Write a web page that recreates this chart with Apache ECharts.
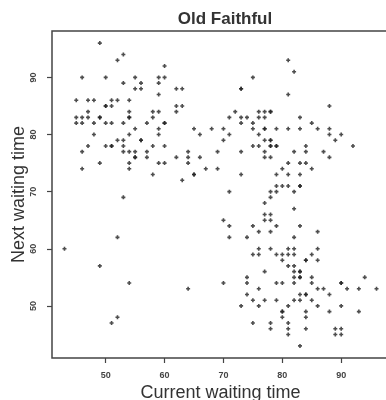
<!DOCTYPE html>
<html>
<head>
<meta charset="utf-8">
<script src="https://cdn.jsdelivr.net/npm/echarts@6/dist/echarts.min.js"></script>
<style>
  html, body { margin: 0; padding: 0; background: #fff; }
  #chart { width: 386px; height: 400px; }
</style>
</head>
<body>
<div id="chart"></div>
<script>
'use strict';
// Old Faithful: waiting times between eruptions, in order
var waiting = [
    79, 54, 74, 62, 85, 55, 88, 85, 51, 85, 54, 84, 78, 47, 83, 52, 62, 84, 52, 79,
    51, 47, 78, 69, 74, 83, 55, 76, 78, 79, 73, 77, 66, 80, 74, 52, 48, 80, 59, 90,
    80, 58, 84, 58, 73, 83, 64, 53, 82, 59, 75, 90, 54, 80, 54, 83, 71, 64, 77, 81,
    59, 84, 48, 82, 60, 92, 78, 78, 65, 73, 82, 56, 79, 71, 62, 76, 60, 78, 76, 83,
    75, 82, 70, 65, 73, 88, 76, 80, 48, 86, 60, 90, 50, 78, 63, 72, 84, 75, 51, 82,
    62, 88, 49, 83, 81, 47, 84, 52, 86, 81, 75, 59, 89, 79, 59, 81, 50, 85, 59, 87,
    53, 69, 77, 56, 88, 81, 45, 82, 55, 90, 45, 83, 56, 89, 46, 82, 51, 86, 53, 79,
    81, 60, 82, 77, 76, 59, 80, 49, 96, 53, 77, 77, 65, 81, 71, 70, 81, 93, 53, 89,
    45, 86, 58, 78, 66, 76, 63, 88, 52, 93, 49, 57, 77, 68, 81, 81, 73, 50, 85, 74,
    55, 77, 83, 83, 51, 78, 84, 46, 83, 55, 81, 57, 76, 84, 77, 81, 87, 77, 51, 78,
    60, 82, 91, 53, 78, 46, 77, 84, 49, 83, 71, 80, 49, 75, 64, 76, 53, 94, 55, 76,
    50, 82, 54, 75, 78, 79, 78, 78, 70, 79, 70, 54, 86, 50, 90, 54, 54, 77, 79, 64,
    75, 47, 86, 63, 85, 82, 57, 82, 67, 74, 54, 83, 73, 73, 88, 80, 71, 83, 56, 79,
    78, 84, 58, 83, 43, 60, 75, 81, 46, 90, 46, 74
];
var xTicks = [50, 60, 70, 80, 90];
var yTicks = [50, 60, 70, 80, 90];

// each point: this waiting time against the next one
var points = [];
for (var i = 0; i < waiting.length - 1; i++) {
    points.push([waiting[i], waiting[i + 1]]);
}

var plus = 'path://M3,0H7V3H10V7H7V10H3V7H0V3H3Z';
var ink = '#444';

var chart = echarts.init(document.getElementById('chart'));
chart.setOption({
    animation: false,
    textStyle: { fontFamily: 'Liberation Sans, Arial, sans-serif' },
    title: {
        text: 'Old Faithful',
        left: 220,
        top: 6,
        textAlign: 'center',
        textStyle: { fontSize: 17, fontWeight: 'bold', color: '#333' }
    },
    grid: {
        left: 52, top: 31, width: 337, height: 327,
        outerBoundsMode: 'none',
        show: true,
        borderColor: ink,
        borderWidth: 1.5
    },
    xAxis: {
        type: 'value',
        min: 40.88,
        max: 98.12,
        name: 'Current waiting time',
        nameLocation: 'middle',
        nameGap: 26,
        nameMoveOverlap: false,
        nameTextStyle: { fontSize: 18, color: '#333' },
        axisLine: { show: false },
        splitLine: { show: false },
        axisTick: { show: true, length: 5, customValues: xTicks, lineStyle: { color: ink, width: 1.2 } },
        axisLabel: { customValues: xTicks, fontSize: 9, fontWeight: 'bold', color: '#444', margin: 13 }
    },
    yAxis: {
        type: 'value',
        min: 40.88,
        max: 98.12,
        name: 'Next waiting time',
        nameLocation: 'middle',
        nameGap: 24,
        nameMoveOverlap: false,
        nameTextStyle: { fontSize: 18, color: '#333' },
        axisLine: { show: false },
        splitLine: { show: false },
        axisTick: { show: true, length: 5, customValues: yTicks, lineStyle: { color: ink, width: 1.2 } },
        axisLabel: { customValues: yTicks, rotate: 90, fontSize: 9, fontWeight: 'bold', color: '#444', margin: 14 }
    },
    series: [{
        type: 'scatter',
        data: points,
        symbol: plus,
        symbolSize: 4,
        itemStyle: { color: '#222' }
    }]
});
</script>
</body>
</html>
